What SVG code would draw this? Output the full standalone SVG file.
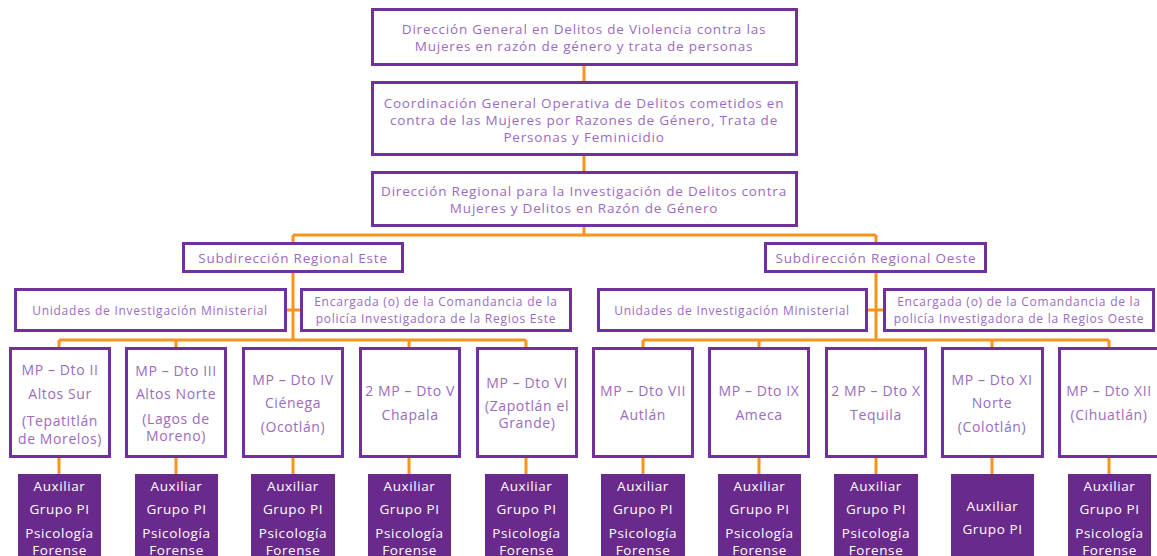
<svg xmlns="http://www.w3.org/2000/svg" width="1157" height="556" viewBox="0 0 1157 556">
<style>
.b{fill:#fff;stroke:#7030A0;stroke-width:3}
.a{fill:#6A2A8C;stroke:none}
.t{font-family:"Open Sans",Lato,sans-serif;fill:#9B6BC0;text-anchor:middle;dominant-baseline:central}
.s13{font-size:13.5px;letter-spacing:0.8px}
.s12{font-size:12px;letter-spacing:0.75px}
.s14{font-size:14px;letter-spacing:0.6px}
.w{font-family:"Open Sans",Lato,sans-serif;fill:#fff;font-size:13.5px;letter-spacing:0.6px;text-anchor:middle;dominant-baseline:central}
.c{fill:none;stroke:#F7941D;stroke-width:3}
</style>
<rect width="1157" height="556" fill="#fff"/>
<g id="connectors">
<path class="c" d="M584 65V82M584 155V172M584 226V235M293 235H876M293 235V243M876 235V243"/>
<path class="c" d="M293 272V340M286 310H301M59 340H526M59 340V348M176 340V348M409 340V348M526 340V348"/>
<path class="c" d="M876 272V340M867 310H884M643 340H1109M643 340V348M759 340V348M992 340V348M1109 340V348"/>
<path class="c" d="M59 457V474M176 457V474M293 457V474M409 457V474M526 457V474M643 457V474M759 457V474M876 457V474M992 457V474M1109 457V474"/>
</g>
<g id="n1"><rect class="b" x="372.5" y="9.5" width="424" height="55"/>
<text class="t s13" x="584" y="29">Dirección General en Delitos de Violencia contra las</text>
<text class="t s13" x="584" y="46">Mujeres en razón de género y trata de personas</text></g>
<g id="n2"><rect class="b" x="372.5" y="82.5" width="424" height="72"/>
<text class="t s13" x="584" y="103">Coordinación General Operativa de Delitos cometidos en</text>
<text class="t s13" x="584" y="120">contra de las Mujeres por Razones de Género, Trata de</text>
<text class="t s13" x="584" y="137">Personas y Feminicidio</text></g>
<g id="n3"><rect class="b" x="372.5" y="172.5" width="424" height="53"/>
<text class="t s13" x="584" y="191">Dirección Regional para la Investigación de Delitos contra</text>
<text class="t s13" x="584" y="208">Mujeres y Delitos en Razón de Género</text></g>
<g id="sub-este"><rect class="b" x="183.5" y="243.5" width="219" height="28"/>
<text class="t s13" x="293" y="257.5">Subdirección Regional Este</text></g>
<g id="sub-oeste"><rect class="b" x="765.5" y="243.5" width="220" height="28"/>
<text class="t s13" x="876" y="257.5">Subdirección Regional Oeste</text></g>
<g id="uim-este"><rect class="b" x="15.5" y="289.5" width="270" height="41"/>
<text class="t s12" x="150" y="310">Unidades de Investigación Ministerial</text></g>
<g id="enc-este"><rect class="b" x="301.5" y="289.5" width="269" height="41"/>
<text class="t s12" x="436" y="301.5">Encargada (o) de la Comandancia de la</text>
<text class="t s12" x="436" y="318.5">policía Investigadora de la Regios Este</text></g>
<g id="uim-oeste"><rect class="b" x="598.5" y="289.5" width="268" height="41"/>
<text class="t s12" x="732" y="310">Unidades de Investigación Ministerial</text></g>
<g id="enc-oeste"><rect class="b" x="884.5" y="289.5" width="269" height="41"/>
<text class="t s12" x="1019" y="301.5">Encargada (o) de la Comandancia de la</text>
<text class="t s12" x="1019" y="318.5">policía Investigadora de la Regios Oeste</text></g>

<g id="dto2"><rect class="b" x="10.5" y="348.5" width="99" height="108"/>
<text class="t s14" x="60" y="369">MP – Dto II</text><text class="t s14" x="60" y="393">Altos Sur</text>
<text class="t s14" x="60" y="420">(Tepatitlán</text><text class="t s14" x="60" y="438">de Morelos)</text></g>
<g id="dto3"><rect class="b" x="126.5" y="348.5" width="99" height="108"/>
<text class="t s14" x="176" y="370">MP – Dto III</text><text class="t s14" x="176" y="393">Altos Norte</text>
<text class="t s14" x="176" y="418">(Lagos de</text><text class="t s14" x="176" y="435">Moreno)</text></g>
<g id="dto4"><rect class="b" x="243.5" y="348.5" width="99" height="108"/>
<text class="t s14" x="293" y="379">MP – Dto IV</text><text class="t s14" x="293" y="402">Ciénega</text>
<text class="t s14" x="293" y="426">(Ocotlán)</text></g>
<g id="dto5"><rect class="b" x="360.5" y="348.5" width="99" height="108"/>
<text class="t s14" x="410" y="390">2 MP – Dto V</text><text class="t s14" x="410" y="414">Chapala</text></g>
<g id="dto6"><rect class="b" x="477.5" y="348.5" width="99" height="108"/>
<text class="t s14" x="527" y="382">MP – Dto VI</text><text class="t s14" x="527" y="405">(Zapotlán el</text>
<text class="t s14" x="527" y="422">Grande)</text></g>
<g id="dto7"><rect class="b" x="593.5" y="348.5" width="99" height="108"/>
<text class="t s14" x="643" y="390">MP – Dto VII</text><text class="t s14" x="643" y="414">Autlán</text></g>
<g id="dto9"><rect class="b" x="709.5" y="348.5" width="99" height="108"/>
<text class="t s14" x="759" y="390">MP – Dto IX</text><text class="t s14" x="759" y="414">Ameca</text></g>
<g id="dto10"><rect class="b" x="826.5" y="348.5" width="99" height="108"/>
<text class="t s14" x="876" y="390">2 MP – Dto X</text><text class="t s14" x="876" y="414">Tequila</text></g>
<g id="dto11"><rect class="b" x="942.5" y="348.5" width="100" height="108"/>
<text class="t s14" x="992" y="379">MP – Dto XI</text><text class="t s14" x="992" y="402">Norte</text>
<text class="t s14" x="992" y="426">(Colotlán)</text></g>
<g id="dto12"><rect class="b" x="1059.5" y="348.5" width="105" height="108"/>
<text class="t s14" x="1109" y="390">MP – Dto XII</text><text class="t s14" x="1109" y="414">(Cihuatlán)</text></g>

<g id="aux2"><rect class="a" x="18" y="474" width="83" height="90"/>
<text class="w" x="59.5" y="486">Auxiliar</text><text class="w" x="59.5" y="509">Grupo PI</text><text class="w" x="59.5" y="533">Psicología</text><text class="w" x="59.5" y="550">Forense</text></g>
<g id="aux3"><rect class="a" x="135" y="474" width="83" height="90"/>
<text class="w" x="176.5" y="486">Auxiliar</text><text class="w" x="176.5" y="509">Grupo PI</text><text class="w" x="176.5" y="533">Psicología</text><text class="w" x="176.5" y="550">Forense</text></g>
<g id="aux4"><rect class="a" x="251" y="474" width="84" height="90"/>
<text class="w" x="293" y="486">Auxiliar</text><text class="w" x="293" y="509">Grupo PI</text><text class="w" x="293" y="533">Psicología</text><text class="w" x="293" y="550">Forense</text></g>
<g id="aux5"><rect class="a" x="368" y="474" width="83" height="90"/>
<text class="w" x="409.5" y="486">Auxiliar</text><text class="w" x="409.5" y="509">Grupo PI</text><text class="w" x="409.5" y="533">Psicología</text><text class="w" x="409.5" y="550">Forense</text></g>
<g id="aux6"><rect class="a" x="485" y="474" width="83" height="90"/>
<text class="w" x="526.5" y="486">Auxiliar</text><text class="w" x="526.5" y="509">Grupo PI</text><text class="w" x="526.5" y="533">Psicología</text><text class="w" x="526.5" y="550">Forense</text></g>
<g id="aux7"><rect class="a" x="601" y="474" width="84" height="90"/>
<text class="w" x="643" y="486">Auxiliar</text><text class="w" x="643" y="509">Grupo PI</text><text class="w" x="643" y="533">Psicología</text><text class="w" x="643" y="550">Forense</text></g>
<g id="aux9"><rect class="a" x="718" y="474" width="83" height="90"/>
<text class="w" x="759.5" y="486">Auxiliar</text><text class="w" x="759.5" y="509">Grupo PI</text><text class="w" x="759.5" y="533">Psicología</text><text class="w" x="759.5" y="550">Forense</text></g>
<g id="aux10"><rect class="a" x="834" y="474" width="84" height="90"/>
<text class="w" x="876" y="486">Auxiliar</text><text class="w" x="876" y="509">Grupo PI</text><text class="w" x="876" y="533">Psicología</text><text class="w" x="876" y="550">Forense</text></g>
<g id="aux11"><rect class="a" x="951" y="474" width="83" height="90"/>
<text class="w" x="992.5" y="506">Auxiliar</text><text class="w" x="992.5" y="529">Grupo PI</text></g>
<g id="aux12"><rect class="a" x="1068" y="474" width="83" height="90"/>
<text class="w" x="1109.5" y="486">Auxiliar</text><text class="w" x="1109.5" y="509">Grupo PI</text><text class="w" x="1109.5" y="533">Psicología</text><text class="w" x="1109.5" y="550">Forense</text></g>
</svg>
